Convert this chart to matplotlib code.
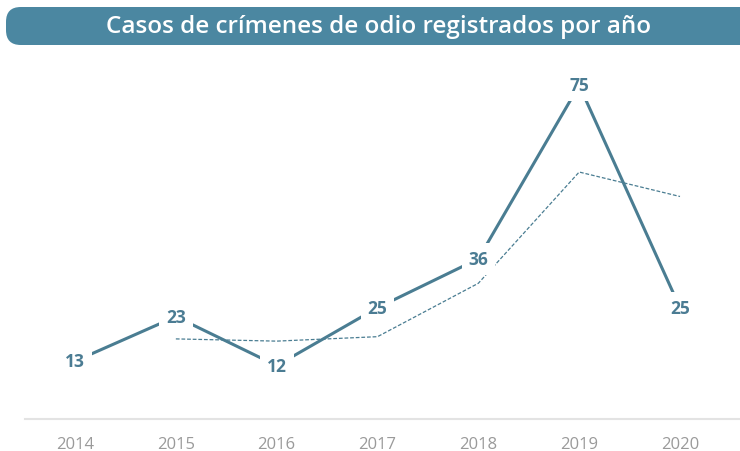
import matplotlib
matplotlib.use("Agg")
import matplotlib.pyplot as plt
from matplotlib.patches import FancyBboxPatch

years = [2014, 2015, 2016, 2017, 2018, 2019, 2020]
casos = [13, 23, 12, 25, 36, 75, 25]
media_years = [2015, 2016, 2017, 2018, 2019, 2020]
media_movil = [18, 17.5, 18.5, 30.5, 55.5, 50]
title = "Casos de crímenes de odio registrados por año"

line_color = "#4a7d92"
label_color = "#4b7c93"
title_bg = "#4b87a1"

W, H = 740, 452
fig = plt.figure(figsize=(W / 100, H / 100), dpi=100)

# Title box
box = FancyBboxPatch((6 / W, 1 - 46 / H), 760 / W, 38 / H,
                     boxstyle="round,pad=0,rounding_size=0.02",
                     transform=fig.transFigure, facecolor=title_bg,
                     edgecolor="none", mutation_aspect=W / H)
fig.patches.append(box)
fig.text(379 / W, 1 - 27 / H, title, color="white", fontsize=17.5,
         fontweight="semibold", family="Open Sans", ha="center", va="center")

ax = fig.add_axes([25 / W, (H - 420) / H, (W - 25) / W, (420 - 60) / H])
ax.set_xlim(2013.504, 2020.595)
ax.set_ylim(0, 80.9)

ax.plot(media_years, media_movil, color=line_color, lw=0.9,
        linestyle=(0, (3, 1.5)), zorder=2)
ax.plot(years, casos, color=line_color, lw=2.2, zorder=3,
        solid_capstyle="butt")

for x, y in zip(years, casos):
    ax.text(x, y, str(y), color=label_color, fontsize=12.5, fontweight="bold",
            family="Open Sans", ha="center", va="center", zorder=4,
            bbox=dict(boxstyle="square,pad=0.4", facecolor="white",
                      edgecolor="none"))

for s in ["left", "right", "top"]:
    ax.spines[s].set_visible(False)
ax.spines["bottom"].set_color("#e3e3e3")
ax.spines["bottom"].set_linewidth(1.5)
ax.set_yticks([])
ax.set_xticks(years)
ax.set_xticklabels([str(y) for y in years], color="#9a9a9a", fontsize=12,
                   family="Open Sans")
ax.tick_params(axis="x", length=0, pad=12)
ax.set_facecolor("none")

fig.savefig("out.png", dpi=100)
